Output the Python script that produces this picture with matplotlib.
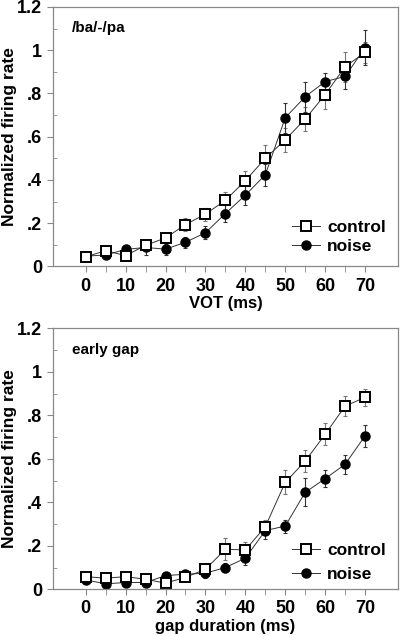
import numpy as np
import matplotlib.pyplot as plt
from matplotlib.ticker import FixedLocator, FixedFormatter

plt.rcParams['font.family'] = ['Liberation Sans', 'DejaVu Sans']
plt.rcParams['font.weight'] = 'bold'

x = [0, 5, 10, 15, 20, 25, 30, 35, 40, 45, 50, 55, 60, 65, 70]
y_ticks = [0, 0.2, 0.4, 0.6, 0.8, 1.0, 1.2]
y_tick_labels = ['0', '.2', '.4', '.6', '.8', '1', '1.2']

# /ba/-/pa panel
vot_control = [0.045, 0.073, 0.05, 0.098, 0.132, 0.194, 0.242, 0.306, 0.397, 0.50, 0.586, 0.682, 0.795, 0.924, 0.99]
vot_control_err = [0.02, 0.015, 0.02, 0.02, 0.02, 0.03, 0.03, 0.04, 0.045, 0.06, 0.055, 0.055, 0.065, 0.07, 0.05]
vot_noise = [0.048, 0.053, 0.079, 0.088, 0.08, 0.112, 0.156, 0.245, 0.33, 0.424, 0.688, 0.785, 0.855, 0.879, 1.012]
vot_noise_err = [0.02, 0.015, 0.02, 0.035, 0.025, 0.025, 0.03, 0.04, 0.045, 0.05, 0.07, 0.07, 0.04, 0.06, 0.08]

# early gap panel
gap_control = [0.058, 0.051, 0.058, 0.046, 0.028, 0.055, 0.092, 0.184, 0.181, 0.288, 0.492, 0.59, 0.713, 0.843, 0.883]
gap_control_err = [0.012, 0.01, 0.012, 0.01, 0.01, 0.012, 0.03, 0.05, 0.035, 0.03, 0.055, 0.05, 0.05, 0.045, 0.04]
gap_noise = [0.043, 0.025, 0.031, 0.031, 0.063, 0.069, 0.074, 0.10, 0.143, 0.27, 0.291, 0.446, 0.509, 0.575, 0.706]
gap_noise_err = [0.01, 0.01, 0.01, 0.01, 0.01, 0.012, 0.02, 0.02, 0.03, 0.04, 0.03, 0.065, 0.04, 0.045, 0.05]

panels = [
    ([0.1325, 0.581, 0.862, 0.408], vot_control, vot_control_err, vot_noise, vot_noise_err,
     '/ba/-/pa', 'VOT (ms)', 0.0, 0.25),
    ([0.1325, 0.0735, 0.862, 0.410], gap_control, gap_control_err, gap_noise, gap_noise_err,
     'early gap', 'gap duration (ms)', -0.02, 0.5),
]

fig = plt.figure(figsize=(4.0, 6.36), dpi=100)

for rect, c, ce, n, ne, title, xlabel, leg_y, leg_sp in panels:
    ax = fig.add_axes(rect)
    ax.errorbar(x, c, yerr=ce, fmt='none', ecolor='#777777', elinewidth=0.8, capsize=1.5, capthick=0.8)
    ax.errorbar(x, n, yerr=ne, fmt='none', ecolor='#333333', elinewidth=0.8, capsize=1.5, capthick=0.8)
    ax.plot(x, n, '-o', color='#333333', lw=0.7, mfc='black', mec='black', ms=6.5, label='noise')
    ax.plot(x, c, '-s', color='#333333', lw=0.7, mfc='white', mec='black', mew=1.4, ms=6.5, label='control')
    ax.set_xlim(-8.2, 78.2)
    ax.set_ylim(0, 1.2)
    ax.xaxis.set_major_locator(FixedLocator([0, 10, 20, 30, 40, 50, 60, 70]))
    ax.xaxis.set_minor_locator(FixedLocator([5, 15, 25, 35, 45, 55, 65]))
    ax.yaxis.set_major_locator(FixedLocator(y_ticks))
    ax.yaxis.set_major_formatter(FixedFormatter(y_tick_labels))
    ax.yaxis.set_minor_locator(FixedLocator([0.1, 0.3, 0.5, 0.7, 0.9, 1.1]))
    ax.tick_params(axis='x', which='both', direction='out', length=4, color='#888888',
                   labelsize=13, pad=4)
    ax.tick_params(axis='y', which='major', direction='out', length=4, color='#888888',
                   labelsize=13, pad=4)
    ax.tick_params(axis='y', which='minor', direction='in', length=3, color='#888888')
    for lab in ax.get_xticklabels() + ax.get_yticklabels():
        lab.set_fontweight('bold')
    for s in ax.spines.values():
        s.set_color('#888888')
        s.set_linewidth(0.9)
    ax.set_xlabel(xlabel, fontsize=12, fontweight='bold', labelpad=1)
    ax.set_ylabel('Normalized firing rate', fontsize=12.5, fontweight='bold')
    ax.yaxis.set_label_coords(-0.105, 0.5)
    ax.text(0.055, 0.945, title, transform=ax.transAxes, fontsize=11, fontweight='bold',
            va='top', ha='left')
    h, l = ax.get_legend_handles_labels()
    ax.legend(h[::-1], l[::-1], loc='lower right', bbox_to_anchor=(1.0, leg_y), frameon=False,
              prop={'size': 12.5, 'weight': 'bold'}, handlelength=1.6, handletextpad=0.4,
              labelspacing=leg_sp, borderaxespad=0.3)

fig.savefig('out.png', dpi=100)
